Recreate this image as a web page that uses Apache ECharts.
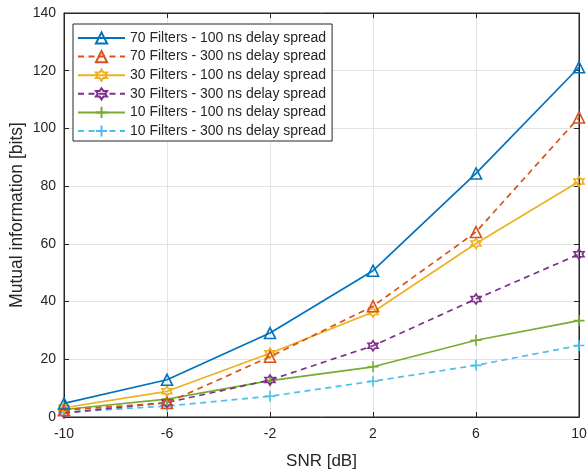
<!DOCTYPE html>
<html><head><meta charset="utf-8">
<script src="https://cdn.jsdelivr.net/npm/echarts@6/dist/echarts.min.js"></script>
<style>html,body{margin:0;padding:0;background:#fff}#c{width:588px;height:471px}</style>
</head><body><div id="c"></div>
<script>
const snr = [-10, -6, -2, 2, 6, 10];
const xTicks = [-10, -6, -2, 2, 6, 10];
const names = [
  '70 Filters - 100 ns delay spread',
  '70 Filters - 300 ns delay spread',
  '30 Filters - 100 ns delay spread',
  '30 Filters - 300 ns delay spread',
  '10 Filters - 100 ns delay spread',
  '10 Filters - 300 ns delay spread'
];
const f70_100 = [4.7, 12.9, 29.1, 50.7, 84.4, 121.2];
const f70_300 = [2.4, 4.9, 20.9, 38.4, 64.1, 103.8];
const f30_100 = [3.2, 8.9, 22.1, 36.4, 60.1, 81.6];
const f30_300 = [1.4, 5.0, 12.8, 24.7, 40.9, 56.4];
const f10_100 = [2.6, 6.2, 12.6, 17.4, 26.6, 33.4];
const f10_300 = [1.6, 3.8, 7.2, 12.4, 17.9, 24.8];

const colors = ['#0072BD', '#D95319', '#EDB120', '#7E2F8E', '#77AC30', '#4DBEEE'];
const hexagram = 'path://M0,-10 L2.887,-5 L8.66,-5 L5.774,0 L8.66,5 L2.887,5 L0,10 L-2.887,5 L-8.66,5 L-5.774,0 L-8.66,-5 L-2.887,-5 Z';
const plus = 'path://M0,-10 L0,10 M-10,0 L10,0';
const symbols = ['triangle', 'triangle', hexagram, hexagram, plus, plus];
const sizes = [11, 11, 10, 10, 11, 11];
const dashed = [false, true, false, true, false, true];
const allData = [f70_100, f70_300, f30_100, f30_300, f10_100, f10_300];

const txt = '#262626';
const font = 'Liberation Sans, Arial, sans-serif';

const series = allData.map((vals, i) => ({
  name: names[i],
  type: 'line',
  data: snr.map((x, j) => [x, vals[j]]),
  symbol: symbols[i],
  symbolSize: sizes[i],
  showSymbol: true,
  lineStyle: { color: colors[i], width: 1.7, type: dashed[i] ? [6, 4.5] : 'solid' },
  itemStyle: { color: 'rgba(255,255,255,0)', borderColor: colors[i], borderWidth: 1.6 },
  emphasis: { disabled: true },
  animation: false,
  z: 10 - i
}));

const chart = echarts.init(document.getElementById('c'), null, { renderer: 'canvas' });
chart.setOption({
  backgroundColor: '#fff',
  animation: false,
  grid: { left: 64, right: 9, top: 13, bottom: 54, show: true, borderColor: txt, borderWidth: 1,
    containLabel: false, outerBoundsMode: 'none' },
  legend: {
    orient: 'vertical', left: 73, top: 24,
    backgroundColor: '#fff', borderColor: txt, borderWidth: 1,
    padding: [7, 6, 3, 4],
    itemWidth: 47, itemHeight: 14, itemGap: 4.6,
    textStyle: { color: txt, fontSize: 14, fontFamily: font },
    data: names
  },
  xAxis: [{
    type: 'value', min: -10, max: 10, interval: 4,
    name: 'SNR [dB]', nameLocation: 'middle', nameGap: 36, nameMoveOverlap: false,
    nameTextStyle: { color: txt, fontSize: 17, fontFamily: font },
    axisLine: { show: true, onZero: false, lineStyle: { color: txt } },
    axisTick: { show: true, inside: true, length: 5, lineStyle: { color: txt } },
    axisLabel: { color: txt, fontSize: 14, fontFamily: font, margin: 10,
      formatter: v => xTicks.includes(v) ? String(v) : '' },
    splitLine: { show: true, lineStyle: { color: '#e3e3e3', width: 1 } }
  }, {
    type: 'value', min: -10, max: 10, interval: 4, position: 'top',
    axisLine: { show: true, onZero: false, lineStyle: { color: txt } },
    axisTick: { show: true, inside: true, length: 5, lineStyle: { color: txt } },
    axisLabel: { show: false }, splitLine: { show: false }
  }],
  yAxis: [{
    type: 'value', min: 0, max: 140, interval: 20,
    name: 'Mutual information [bits]', nameLocation: 'middle', nameGap: 38, nameMoveOverlap: false,
    nameTextStyle: { color: txt, fontSize: 17.5, fontFamily: font },
    axisLine: { show: true, onZero: false, lineStyle: { color: txt } },
    axisTick: { show: true, inside: true, length: 5, lineStyle: { color: txt } },
    axisLabel: { color: txt, fontSize: 14, fontFamily: font, margin: 8 },
    splitLine: { show: true, lineStyle: { color: '#e3e3e3', width: 1 } }
  }, {
    type: 'value', min: 0, max: 140, interval: 20, position: 'right',
    axisLine: { show: true, onZero: false, lineStyle: { color: txt } },
    axisTick: { show: true, inside: true, length: 5, lineStyle: { color: txt } },
    axisLabel: { show: false }, splitLine: { show: false }
  }],
  series: series
});
</script></body></html>
